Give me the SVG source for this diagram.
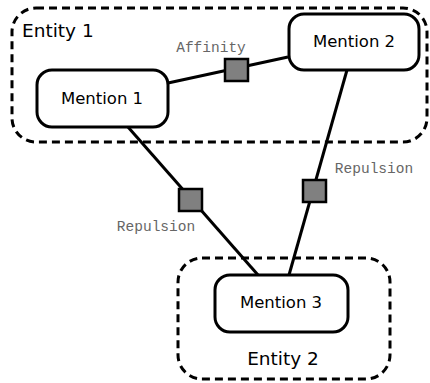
<svg xmlns="http://www.w3.org/2000/svg" width="430" height="383" viewBox="0 0 430 383">
<style>
.ent{fill:none;stroke:#000;stroke-width:3;stroke-dasharray:8,5}
.node rect{fill:#fff;stroke:#000;stroke-width:3}
.ntxt{font-family:"DejaVu Sans",sans-serif;font-size:16.5px;fill:#000;text-anchor:middle}
.etxt{font-family:"DejaVu Sans",sans-serif;font-size:18.5px;fill:#000}
.edge{stroke:#000;stroke-width:3;fill:none}
.fac{fill:#808080;stroke:#000;stroke-width:2.5}
.lbl{font-family:"Liberation Mono",monospace;font-size:14.5px;fill:#666}
</style>
<g id="entity1">
<rect class="ent" x="12" y="8" width="415" height="134" rx="24"/>
<text class="etxt" x="22" y="37">Entity 1</text>
</g>
<g id="entity2">
<rect class="ent" x="178" y="258" width="212" height="121" rx="24"/>
<text class="etxt" x="283" y="365" text-anchor="middle">Entity 2</text>
</g>
<g id="connectors">
<line class="edge" x1="168" y1="83" x2="288" y2="57"/>
<line class="edge" x1="128" y1="127" x2="258" y2="275"/>
<line class="edge" x1="347" y1="70" x2="289" y2="275"/>
</g>
<g id="factor-affinity">
<rect class="fac" x="225" y="59" width="23" height="22"/>
<text class="lbl" x="211" y="52" text-anchor="middle">Affinity</text>
</g>
<g id="factor-repulsion1">
<rect class="fac" x="179" y="189" width="23" height="22"/>
<text class="lbl" x="156" y="231" text-anchor="middle">Repulsion</text>
</g>
<g id="factor-repulsion2">
<rect class="fac" x="303" y="180" width="23" height="22"/>
<text class="lbl" x="374" y="173" text-anchor="middle">Repulsion</text>
</g>
<g id="mention1" class="node">
<rect x="37" y="70" width="131" height="57" rx="15"/>
<text class="ntxt" x="102" y="104">Mention 1</text>
</g>
<g id="mention2" class="node">
<rect x="289" y="14" width="130" height="56" rx="15"/>
<text class="ntxt" x="354" y="47">Mention 2</text>
</g>
<g id="mention3" class="node">
<rect x="215" y="275" width="133" height="57" rx="15"/>
<text class="ntxt" x="281" y="308">Mention 3</text>
</g>
</svg>
